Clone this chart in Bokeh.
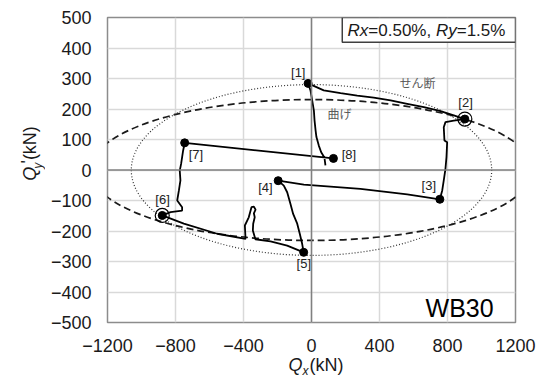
import math
from bokeh.plotting import figure
from bokeh.layouts import row, column
from bokeh.models import Range1d, FixedTicker, Span, Label, ColumnDataSource
from bokeh.embed import file_html
from bokeh.resources import INLINE
from bokeh.core.properties import value

# ---- data (kN) ----
path_qx = [82, 76, 57, 43, 29, 24, 18, 14, 4, -6, -20,
           72, 171, 269, 366, 465, 563, 661, 759, 837, 902,
           837, 788, 778, 782, 798, 794, 788, 778, 769, 755,
           563, 288, -45, -196,
           -163, -143, -124, -108, -84, -69, -55, -46,
           -143, -241, -330, -345, -343, -334, -339, -329, -339, -353, -369, -392, -388,
           -555, -751, -878,
           -829, -761, -761, -790, -780, -771, -775, -767, -761, -755, -746,
           129]
path_qy = [15, 41, 58, 80, 108, 130, 162, 195, 228, 261, 284,
           261, 252, 244, 237, 228, 217, 206, 193, 179, 167,
           162, 157, 140, 97, 91, 42, 4, -34, -67, -96,
           -80, -62, -48, -35,
           -51, -73, -111, -144, -176, -209, -242, -270,
           -248, -234, -227, -198, -176, -155, -142, -130, -120, -122, -155, -182, -226,
           -209, -176, -149,
           -138, -133, -122, -100, -67, -34, -2, 20, 42, 64, 89,
           38]

pt_qx = [-20, 902, 755, -196, -46, -878, -746, 129]
pt_qy = [284, 167, -96, -35, -270, -149, 89, 38]
pt_labels = ["[1]", "[2]", "[3]", "[4]", "[5]", "[6]", "[7]", "[8]"]
lab_qx = [-78, 906, 690, -271, -45, -876, -680, 220]
lab_qy = [321, 222, -51, -56, -306, -98, 50, 51]

ring_qx = [902, -878]
ring_qy = [167, -149]

bend_a, bend_b = 1300, 231     # 曲げ
shear_a, shear_b = 1060, 280   # せん断

x_ticks = [-1200, -800, -400, 0, 400, 800, 1200]
y_ticks = [-500, -400, -300, -200, -100, 0, 100, 200, 300, 400, 500]

FONT = "Liberation Sans"
JP = "Noto Sans CJK JP"

# ---------------- main chart ----------------
p = figure(width=494, height=355, x_range=Range1d(-1200, 1200), y_range=Range1d(-500, 500),
           output_backend="svg", toolbar_location=None, title=None,
           min_border_left=62, min_border_right=24, min_border_top=17, min_border_bottom=33)
p.background_fill_color = "white"
p.border_fill_color = "white"
p.outline_line_color = "#8c8c8c"
p.outline_line_width = 1.5

for ax in (p.xaxis[0], p.yaxis[0]):
    ax.axis_line_color = None
    ax.major_tick_line_color = None
    ax.minor_tick_line_color = None
    ax.major_tick_out = 0
    ax.major_tick_in = 0
    ax.minor_tick_out = 0
    ax.major_label_text_font = FONT
    ax.major_label_text_font_size = "18px"
    ax.major_label_text_color = "#1a1a1a"
p.xaxis[0].ticker = FixedTicker(ticks=x_ticks)
p.yaxis[0].ticker = FixedTicker(ticks=y_ticks)
p.xaxis[0].major_label_standoff = 16
p.yaxis[0].major_label_standoff = 16

p.xgrid[0].ticker = FixedTicker(ticks=x_ticks)
p.ygrid[0].ticker = FixedTicker(ticks=y_ticks)
for g in (p.xgrid[0], p.ygrid[0]):
    g.grid_line_color = "#d9d9d9"
    g.grid_line_width = 1.5

p.add_layout(Span(location=0, dimension="height", line_color="#808080", line_width=1.5))
p.add_layout(Span(location=0, dimension="width", line_color="#808080", line_width=1.5))

# ellipses
p.ellipse(x=0, y=0, width=2 * bend_a, height=2 * bend_b, fill_color=None,
          line_color="#1a1a1a", line_width=1.7, line_dash="7 4")
p.ellipse(x=0, y=0, width=2 * shear_a, height=2 * shear_b, fill_color=None,
          line_color="#333333", line_width=1.2, line_dash="1 2")

# hysteresis path
p.line(path_qx, path_qy, line_color="black", line_width=1.8)
p.scatter(ring_qx, ring_qy, size=14, marker="circle", fill_color=None,
          line_color="black", line_width=1.2)
p.scatter(pt_qx, pt_qy, size=8, marker="circle", fill_color="black", line_color="black")

src = ColumnDataSource(dict(x=lab_qx, y=lab_qy, t=pt_labels))
p.text(x="x", y="y", text="t", source=src, text_font=value(FONT), text_font_size="13px",
       text_color="#222222", text_align="center", text_baseline="middle")

p.text(x=[624], y=[287], text=["せん断"], text_font=value(JP), text_font_size="12px",
       text_color="#5a5a5a", text_align="center", text_baseline="middle")
p.text(x=[165], y=[185], text=["曲げ"], text_font=value(JP), text_font_size="12px",
       text_color="#5a5a5a", text_align="center", text_baseline="middle")

# R box
p.quad(left=[181], right=[1200], top=[500], bottom=[419], fill_color="white",
       line_color="#404040", line_width=1.5)
box_y = 456
for txt, off, style in [("Rx", 0, "italic"), ("=0.50%, ", 20.8, "normal"),
                        ("Ry", 88.4, "italic"), ("=1.5%", 109.2, "normal")]:
    p.add_layout(Label(x=212, y=box_y, x_offset=off, text=txt, text_font=FONT,
                       text_font_size="17px", text_font_style=style, text_color="#1a1a1a",
                       text_align="left", text_baseline="middle"))

p.add_layout(Label(x=671, y=-451, text="WB30", text_font=FONT, text_font_size="25px",
                   text_color="black", text_align="left", text_baseline="middle"))


def blank(w, h):
    f = figure(width=w, height=h, x_range=Range1d(0, w), y_range=Range1d(0, h),
               output_backend="svg", toolbar_location=None, title=None, min_border=0,
               x_axis_location=None, y_axis_location=None)
    f.outline_line_color = None
    f.background_fill_color = "white"
    f.border_fill_color = "white"
    for g in f.grid:
        g.visible = False
    return f


# ---------------- y title (Qy'(kN), rotated) ----------------
ylab = blank(45, 355)
ang = math.pi / 2
ylab.text(x=[29], y=[165], text=["Q"], angle=ang, text_font=value(FONT), text_font_size="18px",
          text_font_style="italic", text_color="#1a1a1a", text_align="left", text_baseline="middle")
ylab.text(x=[37], y=[179], text=["y"], angle=ang, text_font=value(FONT), text_font_size="12px",
          text_font_style="italic", text_color="#1a1a1a", text_align="left", text_baseline="middle")
ylab.text(x=[27], y=[185], text=["'"], angle=ang, text_font=value(FONT), text_font_size="18px",
          text_color="#1a1a1a", text_align="left", text_baseline="middle")
ylab.text(x=[29], y=[189], text=["(kN)"], angle=ang, text_font=value(FONT), text_font_size="18px",
          text_color="#1a1a1a", text_align="left", text_baseline="middle")

# ---------------- x title (Qx(kN)) ----------------
xlab = blank(539, 22)
xlab.text(x=[288], y=[13], text=["Q"], text_font=value(FONT), text_font_size="18px",
          text_font_style="italic", text_color="#1a1a1a", text_align="left", text_baseline="middle")
xlab.text(x=[302], y=[7], text=["x"], text_font=value(FONT), text_font_size="12px",
          text_font_style="italic", text_color="#1a1a1a", text_align="left", text_baseline="middle")
xlab.text(x=[309], y=[13], text=["(kN)"], text_font=value(FONT), text_font_size="18px",
          text_color="#1a1a1a", text_align="left", text_baseline="middle")

layout = column(row(ylab, p), xlab)
open("out.html", "w").write(file_html(layout, INLINE))
